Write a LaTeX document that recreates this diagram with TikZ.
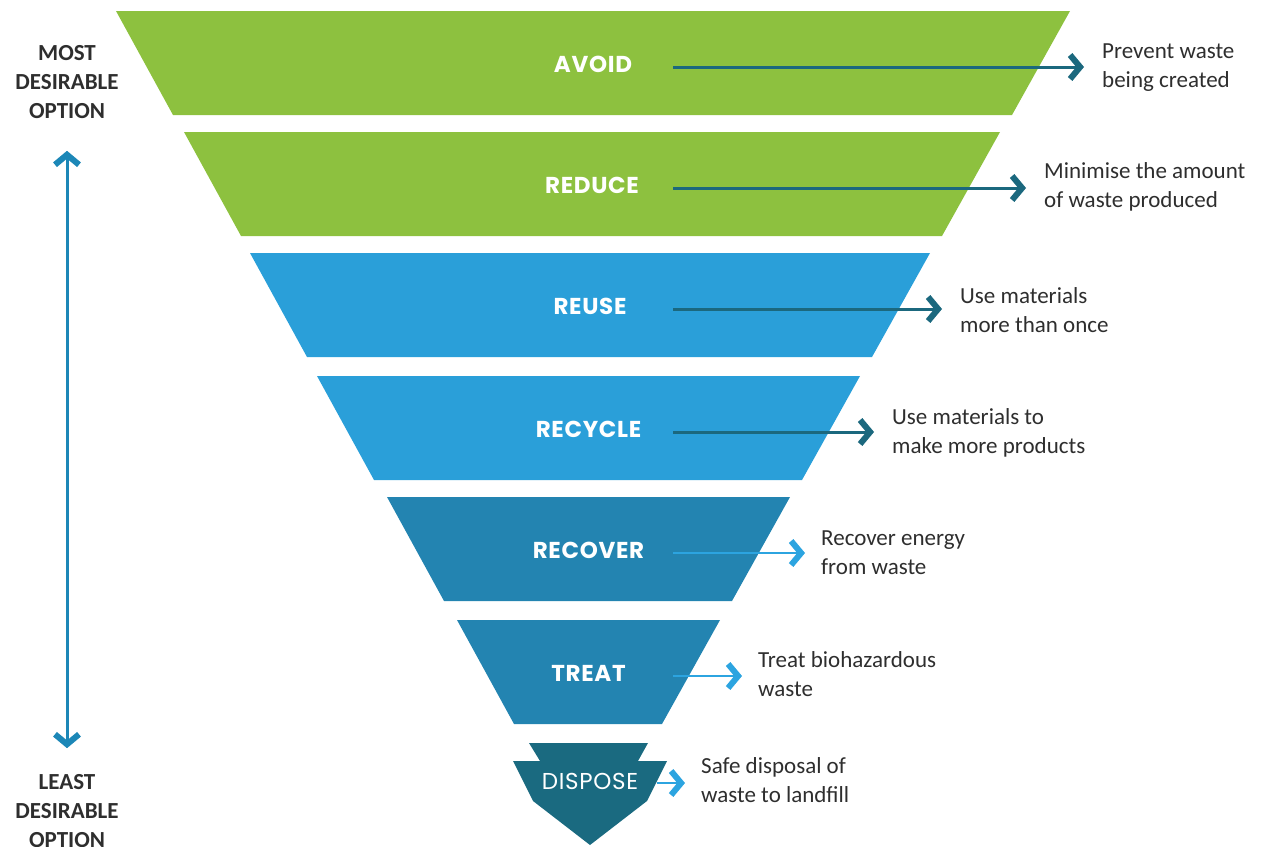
\documentclass[tikz,border=0pt]{standalone}
\usepackage{fontspec}
\setmainfont{Carlito}
\newfontfamily\bandfont{Poppins}[LetterSpace=3]
\usetikzlibrary{arrows.meta}
\definecolor{leafgreen}{HTML}{8DC13F}
\definecolor{skyblue}{HTML}{2A9FD9}
\definecolor{seablue}{HTML}{2384B1}
\definecolor{deepteal}{HTML}{1A6A80}
\definecolor{pointerteal}{HTML}{1B687E}
\definecolor{pointersky}{HTML}{2CA4E0}
\definecolor{sidearrow}{HTML}{1C87B7}
\definecolor{textgrey}{HTML}{2E2E2E}

\begin{document}
\begin{tikzpicture}
    [x=1pt, y=-1pt,
      band/.style={text=white,inner sep=0pt,font=\bandfont\bfseries\fontsize{23}{27}\selectfont},
      note/.style={anchor=west,align=left,inner sep=0pt,text=textgrey,font=\fontsize{23}{29}\selectfont},
      side/.style={align=center,inner sep=0pt,text=textgrey,font=\bfseries\fontsize{23}{29}\selectfont},
      pointer/.style={pointerteal,line width=3pt,shorten >=18pt,
        -{Straight Barb[length=10pt,width=24pt,line width=6pt]}},
      thinpointer/.style={pointersky,line width=2pt,shorten >=16pt,
        -{Straight Barb[length=10pt,width=24pt,line width=6pt]}},
      updown/.style={sidearrow,line width=3pt,
        {Straight Barb[length=10pt,width=24pt,line width=6pt]}-{Straight Barb[length=10pt,width=24pt,line width=6pt]}}]
    \useasboundingbox (0,0) rectangle (1276,846);
    % the inverted pyramid
    \foreach \yt/\xl/\xr/\col/\name/\lab in
      {11/116/1070/leafgreen/avoid/AVOID, 132/184/1000/leafgreen/reduce/REDUCE,
       253/250/930/skyblue/reuse/REUSE, 376/317/860/skyblue/recycle/RECYCLE,
       497/387/790/seablue/recover/RECOVER, 620/457/720/seablue/treat/TREAT}
    {
      \fill[\col] (\xl,\yt) -- (\xr,\yt) -- (\xr-58,\yt+104) -- (\xl+57,\yt+104) -- cycle;
      \node[band] (\name) at ({(\xl+\xr)/2},\yt+53) {\lab};
      \coordinate (\name-s) at (673,\yt+56);
    }
    \fill[deepteal] (529,743) -- (648,743) -- (638,761) -- (667,761) -- (647,801)
      -- (590,845) -- (533,801) -- (513,761) -- (540,761) -- cycle;
    \node[band,font=\bandfont\fontsize{23}{27}\selectfont] (dispose) at (590,781) {DISPOSE};
    \coordinate (dispose-s) at (657,783);

    \node[note] (avoid-t) at (1102,68) {Prevent waste\\being created};
    \node[note] (reduce-t) at (1044,187) {Minimise the amount\\of waste produced};
    \node[note] (reuse-t) at (960,310) {Use materials\\more than once};
    \node[note] (recycle-t) at (892,433) {Use materials to\\make more products};
    \node[note] (recover-t) at (821,553) {Recover energy\\from waste};
    \node[note] (treat-t) at (758,674) {Treat biohazardous\\waste};
    \node[note] (dispose-t) at (701,780) {Safe disposal of\\waste to landfill};

    \draw[pointer] (avoid-s) -- (avoid-t.west |- avoid-s);
    \draw[pointer] (reduce-s) -- (reduce-t.west |- reduce-s);
    \draw[pointer] (reuse-s) -- (reuse-t.west |- reuse-s);
    \draw[pointer] (recycle-s) -- (recycle-t.west |- recycle-s);
    \draw[thinpointer] (recover-s) -- (recover-t.west |- recover-s);
    \draw[thinpointer] (treat-s) -- (treat-t.west |- treat-s);
    \draw[thinpointer] (dispose-s) -- (dispose-t.west |- dispose-s);

    \node[side] (most) at (67,82) {MOST\\DESIRABLE\\OPTION};
    \node[side] (least) at (67,811) {LEAST\\DESIRABLE\\OPTION};
    \draw[updown,shorten <=32pt,shorten >=26pt] (most) -- (least);
  \end{tikzpicture}
\end{document}
